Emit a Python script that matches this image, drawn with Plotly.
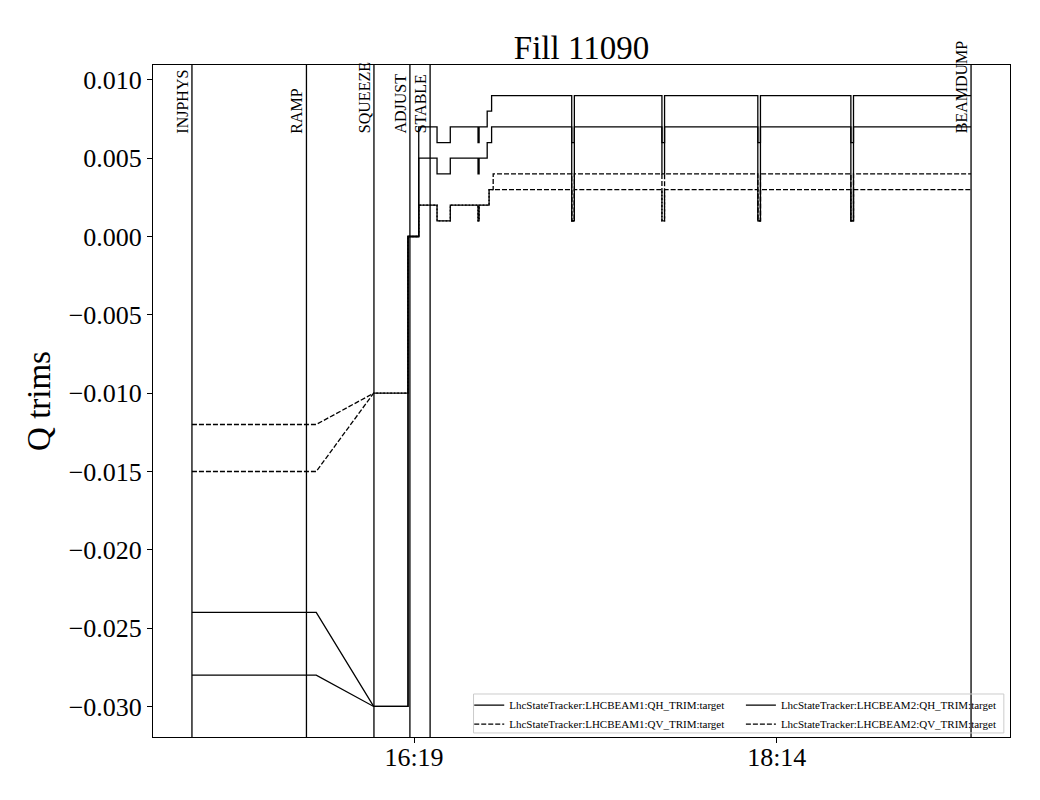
import plotly.graph_objects as go
from datetime import datetime

# ---------------- data ----------------
DATE = "2025-08-22"

# change points shared by all four trim series (HH:MM:SS)
EVENT_TIMES = ["15:08:36", "15:48:00", "16:06:12", "16:17:06", "16:20:30",
               "16:26:18", "16:30:30", "16:39:18", "16:39:38", "16:42:12",
               "16:42:48", "16:43:36", "16:44:06", "17:09:00", "17:09:50",
               "17:37:36", "17:38:26", "18:08:00", "18:08:50", "18:37:30",
               "18:38:20", "19:15:36"]
RAMP_END_INDEX = 2   # segment ending here is a linear ramp, all others are steps

B1_QH = [-0.024, -0.024, -0.030, 0.000, 0.007, 0.006, 0.007, 0.006, 0.007, 0.008, 0.008,
         0.009, 0.009, 0.001, 0.009, 0.004, 0.009, 0.001, 0.009, 0.001, 0.009, 0.009]
B2_QH = [-0.028, -0.028, -0.030, 0.000, 0.005, 0.004, 0.005, 0.004, 0.005, 0.006, 0.006,
         0.007, 0.007, 0.006, 0.007, 0.006, 0.007, 0.006, 0.007, 0.006, 0.007, 0.007]
B1_QV = [-0.012, -0.012, -0.010, 0.000, 0.002, 0.001, 0.002, 0.001, 0.002, 0.002, 0.003,
         0.003, 0.004, 0.001, 0.004, 0.001, 0.004, 0.001, 0.004, 0.001, 0.004, 0.004]
B2_QV = [-0.015, -0.015, -0.010, 0.000, 0.002, 0.001, 0.002, 0.001, 0.002, 0.002, 0.003,
         0.003, 0.003, 0.001, 0.003, 0.001, 0.003, 0.001, 0.003, 0.001, 0.003, 0.003]

SERIES_NAMES = ["LhcStateTracker:LHCBEAM1:QH_TRIM:target",
                "LhcStateTracker:LHCBEAM1:QV_TRIM:target",
                "LhcStateTracker:LHCBEAM2:QH_TRIM:target",
                "LhcStateTracker:LHCBEAM2:QV_TRIM:target"]

MODE_NAMES = ["INJPHYS", "RAMP", "SQUEEZE", "ADJUST", "STABLE", "BEAMDUMP"]
MODE_TIMES = ["15:08:36", "15:44:54", "16:06:18", "16:17:42", "16:24:06", "19:15:36"]

X_TICKS = ["16:19", "18:14"]
Y_TICKS = [-0.030, -0.025, -0.020, -0.015, -0.010, -0.005, 0.000, 0.005, 0.010]

TITLE = "Fill 11090"
Y_TITLE = "Q trims"

# ---------------- helpers ----------------
FONT = "Liberation Serif, Times New Roman, serif"


def to_dt(t):
    fmt = "%Y-%m-%d %H:%M:%S" if t.count(":") == 2 else "%Y-%m-%d %H:%M"
    return datetime.strptime(f"{DATE} {t}", fmt)


def build(times, values):
    xs, ys = [to_dt(times[0])], [values[0]]
    for i in range(1, len(times)):
        t = to_dt(times[i])
        if i != RAMP_END_INDEX:
            xs.append(t)
            ys.append(values[i - 1])
        xs.append(t)
        ys.append(values[i])
    return xs, ys


DASH = "5px,2px"
LW = 1.3

fig = go.Figure()
specs = [
    (B1_QH, SERIES_NAMES[0], "solid", "legend"),
    (B1_QV, SERIES_NAMES[1], DASH, "legend"),
    (B2_QH, SERIES_NAMES[2], "solid", "legend2"),
    (B2_QV, SERIES_NAMES[3], DASH, "legend2"),
]
for vals, name, dash, leg in specs:
    xs, ys = build(EVENT_TIMES, vals)
    fig.add_trace(go.Scatter(x=xs, y=ys, mode="lines", name=name, legend=leg,
                             line=dict(color="black", width=LW, dash=dash)))

# axis ranges with 5 % padding (matplotlib style)
all_t = [to_dt(t) for t in EVENT_TIMES]
tmin, tmax = min(all_t), max(all_t)
tpad = (tmax - tmin) * 0.05
all_v = B1_QH + B2_QH + B1_QV + B2_QV
vmin, vmax = min(all_v), max(all_v)
vpad = (vmax - vmin) * 0.05

# mode lines and labels
for name, t in zip(MODE_NAMES, MODE_TIMES):
    fig.add_shape(type="line", xref="x", yref="paper", x0=to_dt(t), x1=to_dt(t), y0=0, y1=1,
                  line=dict(color="black", width=LW))
    fig.add_annotation(x=to_dt(t), xref="x", y=0.9, yref="paper", text=name, textangle=-90,
                       xanchor="right", yanchor="bottom", showarrow=False, xshift=1, yshift=-3,
                       font=dict(family=FONT, size=16, color="black"))

# legend frame
fig.add_shape(type="rect", xref="paper", yref="paper",
              x0=0.374, x1=0.9928, y0=0.006, y1=0.064,
              line=dict(color="#cccccc", width=1), fillcolor="rgba(0,0,0,0)", layer="above")

fig.update_layout(
    width=1040, height=800,
    margin=dict(l=145, r=38, t=57, b=71, autoexpand=False),
    paper_bgcolor="white", plot_bgcolor="white",
    font=dict(family=FONT, color="black"),
    title=dict(text=TITLE, x=0.5, xref="paper", y=0.951, yref="container", yanchor="middle",
               xanchor="center", font=dict(family=FONT, size=33, color="black")),
    legend=dict(x=0.369, y=0.069, xanchor="left", yanchor="top", bgcolor="rgba(0,0,0,0)",
                font=dict(family=FONT, size=11, color="black"), tracegroupgap=0),
    legend2=dict(x=0.686, y=0.069, xanchor="left", yanchor="top", bgcolor="rgba(0,0,0,0)",
                 font=dict(family=FONT, size=11, color="black"), tracegroupgap=0),
    showlegend=True,
)

fig.update_xaxes(
    type="date",
    range=[tmin - tpad, tmax + tpad],
    tickvals=[to_dt(t) for t in X_TICKS],
    ticktext=X_TICKS,
    showgrid=False, zeroline=False, automargin=False,
    showline=True, linecolor="black", linewidth=1, mirror=True,
    ticks="outside", ticklen=5, tickcolor="black", tickwidth=1,
    ticklabelstandoff=-8,
    tickfont=dict(family=FONT, size=26, color="black"),
)
fig.update_yaxes(
    range=[vmin - vpad, vmax + vpad],
    tickvals=Y_TICKS,
    tickformat=".3f",
    showgrid=False, zeroline=False, automargin=False,
    showline=True, linecolor="black", linewidth=1, mirror=True,
    ticks="outside", ticklen=5, tickcolor="black", tickwidth=1,
    tickfont=dict(family=FONT, size=26, color="black"),
    title=dict(text=Y_TITLE, font=dict(family=FONT, size=33, color="black"), standoff=8),
)

fig.write_html("out.html")
